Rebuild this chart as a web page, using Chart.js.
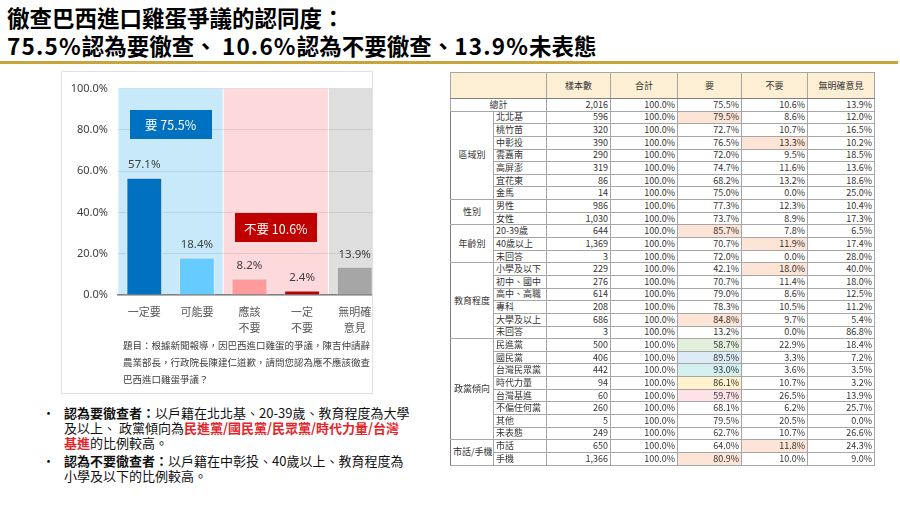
<!DOCTYPE html>
<html>
<head>
<meta charset="utf-8">
<script src="https://cdn.jsdelivr.net/npm/chart.js@4.4.0/dist/chart.umd.min.js"></script>
<style>
body { margin:0; width:900px; height:506px; background:#fff; position:relative; overflow:hidden;
  font-family:"Noto Sans CJK TC","Noto Sans",sans-serif; }
#title { position:absolute; left:7px; top:3px; font-weight:bold; font-size:22.5px; line-height:28px; color:#000; white-space:nowrap; }
#title .d { letter-spacing:1.2px; }
#rule { position:absolute; left:0; top:61px; width:898px; height:3px; background:#C9A43A; }
#panel { position:absolute; left:61px; top:71px; width:310px; height:321px; border:1px solid #E3E3E3;
  box-shadow:0 0 2px rgba(0,0,0,0.06); overflow:hidden; background:#fff; }
#chartBox { position:absolute; left:1px; top:0; width:318px; height:268px; }
#question { position:absolute; left:61px; top:265px; font-size:9.5px; line-height:17px; color:#404040; white-space:nowrap; }
#notes { position:absolute; left:40px; top:405px; width:400px; font-size:13px; line-height:15px; color:#111; }
.item { position:relative; padding-left:24px; margin-bottom:3px; }
.item:before { content:'•'; position:absolute; left:2px; top:0; }
.ln { display:block; white-space:nowrap; height:15px; overflow:visible; }
.ln b, .ln .red { display:inline-block; height:15px; line-height:15px; vertical-align:top; }
.red { color:#E3262B; font-weight:bold; }
#tbl { position:absolute; left:450px; top:72px; width:424px; border-collapse:collapse; table-layout:fixed;
  font-size:9px; color:#333; border:1px solid #7F7F7F; }
#tbl td { padding:0 2px; border:1px solid #A6A6A6; white-space:nowrap; overflow:hidden; line-height:10px; }
#tbl tr { height:12.65px; }
#tbl tr.head { height:26px; }
#tbl tr.head td { background:#FCEFD3; text-align:center; border-bottom:1px solid #7F7F7F; }
#tbl td.num { text-align:right; }
#tbl td.grp { text-align:center; border-left:1px solid #7F7F7F; }
#tbl tr.first td { border-top:1px solid #595959; }
</style>
</head>
<body>
<div id="title">徹查巴西進口雞蛋爭議的認同度：<br><span class="d">75.5%</span>認為要徹查、 <span class="d">10.6%</span>認為不要徹查、<span class="d">13.9%</span>未表態</div>
<div id="rule"></div>
<div id="panel">
  <div id="chartBox"><canvas id="myChart"></canvas></div>
  <div id="question">題目：根據新聞報導，因巴西進口雞蛋的爭議，陳吉仲請辭<br>農業部長，行政院長陳建仁道歉，請問您認為應不應該徹查<br>巴西進口雞蛋爭議？</div>
</div>
<div id="notes">
  <div class="item"><span class="ln"><b>認為要徹查者：</b>以戶籍在北北基、20-39歲、教育程度為大學</span><span class="ln">及以上、 政黨傾向為<span class="red">民進黨/國民黨/民眾黨/時代力量/台灣</span></span><span class="ln"><span class="red">基進</span>的比例較高。</span></div>
  <div class="item"><span class="ln"><b>認為不要徹查者：</b>以戶籍在中彰投、40歲以上、教育程度為</span><span class="ln">小學及以下的比例較高。</span></div>
</div>
<table id="tbl"></table>
<script>
// bar chart data
var categories = [['一定要'], ['可能要'], ['應該', '不要'], ['一定', '不要'], ['無明確', '意見']];
var values = [57.1, 18.4, 8.2, 2.4, 13.9];
var groupNames = ['要', '不要', '無明確意見'];
var groupTotals = [75.5, 10.6, 13.9];
var groupMembers = [[0, 1], [2, 3], [4]];
var yTicks = [0, 20, 40, 60, 80, 100];

// table data
var tableHeads = ['樣本數', '合計', '要', '不要', '無明確意見'];
var totalRow = ['總計', 2016, 100.0, 75.5, 10.6, 13.9];
var groups = ['區域別', '性別', '年齡別', '教育程度', '政黨傾向', '市話/手機'];
var groupSizes = [7, 2, 3, 6, 8, 2];
var rowLabels = ['北北基', '桃竹苗', '中彰投', '雲嘉南', '高屏澎', '宜花東', '金馬',
  '男性', '女性', '20-39歲', '40歲以上', '未回答',
  '小學及以下', '初中、國中', '高中、高職', '專科', '大學及以上', '未回答',
  '民進黨', '國民黨', '台灣民眾黨', '時代力量', '台灣基進', '不偏任何黨', '其他', '未表態',
  '市話', '手機'];
var samples = [596, 320, 390, 290, 319, 86, 14, 986, 1030, 644, 1369, 3, 229, 276, 614, 208, 686, 3,
  500, 406, 442, 94, 60, 260, 5, 249, 650, 1366];
var yesPct = [79.5, 72.7, 76.5, 72.0, 74.7, 68.2, 75.0, 77.3, 73.7, 85.7, 70.7, 72.0, 42.1, 70.7, 79.0, 78.3, 84.8, 13.2,
  58.7, 89.5, 93.0, 86.1, 59.7, 68.1, 79.5, 62.7, 64.0, 80.9];
var noPct = [8.6, 10.7, 13.3, 9.5, 11.6, 13.2, 0.0, 12.3, 8.9, 7.8, 11.9, 0.0, 18.0, 11.4, 8.6, 10.5, 9.7, 0.0,
  22.9, 3.3, 3.6, 10.7, 26.5, 6.2, 20.5, 10.7, 11.8, 10.0];
var nonePct = [12.0, 16.5, 10.2, 18.5, 13.6, 18.6, 25.0, 10.4, 17.3, 6.5, 17.4, 28.0, 40.0, 18.0, 12.5, 11.2, 5.4, 86.8,
  18.4, 7.2, 3.5, 3.2, 13.9, 25.7, 0.0, 26.6, 24.3, 9.0];
// highlighted cells: row index -> column (3 = 要, 4 = 不要)
var highlightRows = [0, 2, 9, 10, 12, 16, 18, 19, 20, 21, 22, 26, 27];
var highlightCols = [3, 4, 3, 4, 4, 3, 3, 3, 3, 3, 3, 4, 3];

var barColors = ['#0070C0', '#66CCFF', '#FF9B9B', '#C00000', '#A6A6A6'];
var zoneColors = ['#C7E9FA', '#FDD9DC', '#DEDEDE'];
var boxColors = ['#0070C0', '#C00000'];
var boxLevels = [82.5, 32.5];
var hlColors = ['#FCE4D6', '#FCE4D6', '#FCE4D6', '#FCE4D6', '#FCE4D6', '#FCE4D6',
  '#E2EFDA', '#DDEBF7', '#D3F0EE', '#FFF2CC', '#FDE3E7', '#FCE4D6', '#FCE4D6'];

function pct(v) { return v.toFixed(1) + '%'; }

// build table
var html = '<colgroup><col style="width:43px"><col style="width:53px"><col style="width:64px"><col style="width:67px"><col style="width:64px"><col style="width:66px"><col style="width:67px"></colgroup>';
html += '<tr class="head"><td colspan="2"></td>';
tableHeads.forEach(function(h) { html += '<td>' + h + '</td>'; });
html += '</tr>';
html += '<tr><td colspan="2" style="text-align:center">' + totalRow[0] + '</td><td class="num">' + totalRow[1].toLocaleString('en-US') + '</td>';
for (var k = 2; k < 6; k++) html += '<td class="num">' + pct(totalRow[k]) + '</td>';
html += '</tr>';
var r = 0;
groups.forEach(function(g, gi) {
    for (var j = 0; j < groupSizes[gi]; j++) {
        var cells = [samples[r].toLocaleString('en-US'), pct(100), pct(yesPct[r]), pct(noPct[r]), pct(nonePct[r])];
        html += '<tr' + (j == 0 ? ' class="first"' : '') + '>';
        if (j == 0) html += '<td class="grp" rowspan="' + groupSizes[gi] + '">' + g + '</td>';
        html += '<td>' + rowLabels[r] + '</td>';
        var hi = highlightRows.indexOf(r);
        cells.forEach(function(c, ci) {
            var bg = '';
            if (hi >= 0 && highlightCols[hi] == ci + 1) bg = ' style="background:' + hlColors[hi] + '"';
            html += '<td class="num"' + bg + '>' + c + '</td>';
        });
        html += '</tr>';
        r++;
    }
});
document.getElementById('tbl').innerHTML = html;

// background zones behind each answer group
const zonePlugin = {
    id: 'zones',
    beforeDraw: function(chart) {
        const ctx = chart.ctx, x = chart.scales.x, y = chart.scales.y;
        const half = (x.getPixelForValue(1) - x.getPixelForValue(0)) / 2;
        const top = y.getPixelForValue(100), bottom = y.getPixelForValue(0);
        ctx.save();
        groupMembers.forEach(function(m, i) {
            const l = x.getPixelForValue(m[0]) - half;
            const rr = x.getPixelForValue(m[m.length - 1]) + half;
            ctx.fillStyle = zoneColors[i];
            ctx.fillRect(l + 0.5, top, rr - l - 1, bottom - top);
        });
        ctx.restore();
    }
};

// value labels and the group boxes
const labelPlugin = {
    id: 'labels',
    afterDatasetsDraw: function(chart) {
        const ctx = chart.ctx, x = chart.scales.x, y = chart.scales.y;
        const meta = chart.getDatasetMeta(0);
        ctx.save();
        ctx.textAlign = 'center';
        ctx.textBaseline = 'middle';
        ctx.fillStyle = '#404040';
        ctx.font = '11.5px "Noto Sans", sans-serif';
        meta.data.forEach(function(bar, i) {
            ctx.fillText(pct(values[i]), bar.x, bar.y - 12);
        });
        boxLevels.forEach(function(lv, i) {
            const m = groupMembers[i];
            const cx = (x.getPixelForValue(m[0]) + x.getPixelForValue(m[m.length - 1])) / 2;
            const cy = y.getPixelForValue(lv);
            ctx.fillStyle = boxColors[i];
            ctx.fillRect(Math.round(cx - 41), Math.round(cy - 14.5), 82, 29);
            ctx.fillStyle = '#fff';
            ctx.font = '12.5px "Noto Sans CJK TC", sans-serif';
            ctx.fillText(groupNames[i] + ' ' + pct(groupTotals[i]), cx, cy + 1);
        });
        ctx.restore();
    }
};

const ctx = document.getElementById('myChart');
chart = new Chart(ctx, {
    type: 'bar',
    data: {
        labels: categories,
        datasets: [{
            data: values,
            backgroundColor: barColors,
            borderColor: 'rgba(232,232,232,0.9)',
            borderWidth: 1.5,
            categoryPercentage: 1,
            barPercentage: 0.7
        }]
    },
    options: {
        animation: false,
        responsive: true,
        maintainAspectRatio: false,
        layout: { padding: { top: 15, right: 0, bottom: 0, left: 0 } },
        plugins: {
            legend: { display: false },
            tooltip: { enabled: false }
        },
        scales: {
            x: {
                grid: { display: false },
                border: { display: true, color: '#808080', width: 1.5 },
                ticks: {
                    color: '#595959',
                    padding: 1,
                    maxRotation: 0,
                    autoSkip: false,
                    font: { size: 11, family: '"Noto Sans CJK TC", sans-serif', lineHeight: 1.45 }
                },
                afterFit: function(s) { s.height = 45; }
            },
            y: {
                min: 0,
                max: 100,
                afterBuildTicks: function(s) { s.ticks = yTicks.map(function(v) { return { value: v }; }); },
                grid: { color: 'rgba(0,0,0,0.09)', drawTicks: false },
                border: { display: false },
                ticks: {
                    color: '#404040',
                    padding: 10,
                    font: { size: 11, family: '"Noto Sans", sans-serif' },
                    callback: function(v) { return pct(v); }
                },
                afterFit: function(s) { s.width = 55; }
            }
        }
    },
    plugins: [zonePlugin, labelPlugin]
});
</script>
</body>
</html>
